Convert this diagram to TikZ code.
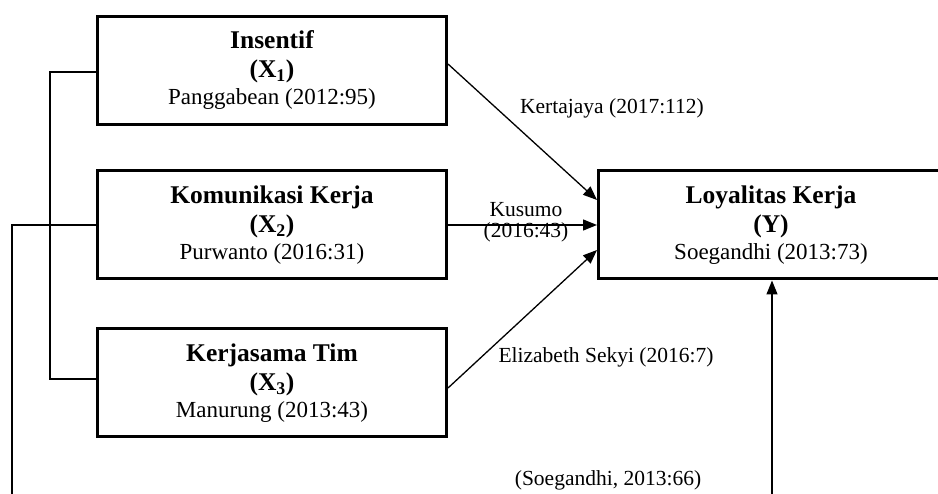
\documentclass[tikz,border=0pt]{standalone}
\usepackage{fontspec}
\setmainfont{Liberation Serif}
\usetikzlibrary{arrows.meta}
\newcommand\tfont{\bfseries\fontsize{25.5}{29}\selectfont}
\newcommand\cfont{\normalfont\fontsize{23}{27}\selectfont}
\newcommand\lfont{\normalfont\fontsize{21.5}{27}\selectfont}
\tikzset{
  box/.style={draw, line width=3pt, minimum width=349pt, minimum height=108pt, inner sep=0pt, align=center, font=\cfont},
  conn/.style={line width=1.3pt},
  arr/.style={conn, -{Triangle[length=14pt,width=11pt]}},
  lbl/.style={font=\lfont, inner sep=0pt, align=center}
}
\begin{document}
\begin{tikzpicture}[x=1pt,y=-1pt]
\path[use as bounding box, clip] (0,0) rectangle (938,494);
\node[box] (x1) at (272,70.5) {\tfont Insentif\\[2pt]\tfont (X\textsubscript{1})\\\cfont Panggabean (2012:95)};
\node[box] (x2) at (272,225) {\tfont Komunikasi Kerja\\[2pt]\tfont (X\textsubscript{2})\\\cfont Purwanto (2016:31)};
\node[box] (x3) at (272,383) {\tfont Kerjasama Tim\\[2pt]\tfont (X\textsubscript{3})\\\cfont Manurung (2013:43)};
\node[box, minimum width=345pt] (y) at (771,225) {\tfont Loyalitas Kerja\\[2pt]\tfont (Y)\\\cfont Soegandhi (2013:73)};
\draw[arr] ([yshift=6.5pt]x1.east) -- ([yshift=25pt]y.west);
\draw[arr] (x2.east) -- (y.west);
\draw[arr] ([yshift=-5pt]x3.east) -- ([yshift=-25pt]y.west);
\draw[conn] ([yshift=-1.5pt]x1.west) -- ++(-46,0) |- ([yshift=4pt]x3.west);
\coordinate (b1) at (12,504);
\draw[conn] (x2.west) -| (b1);
\coordinate (b2) at (772,504);
\draw[arr] (b2) -- (y.south -| b2);
\node[lbl] (l1) at (612,108) {Kertajaya (2017:112)};
\node[lbl] (l2) at (526,222) {Kusumo\\[-6pt](2016:43)};
\node[lbl] (l3) at (606,357) {Elizabeth Sekyi (2016:7)};
\node[lbl] (l4) at (608,480) {(Soegandhi, 2013:66)};
\end{tikzpicture}
\end{document}
